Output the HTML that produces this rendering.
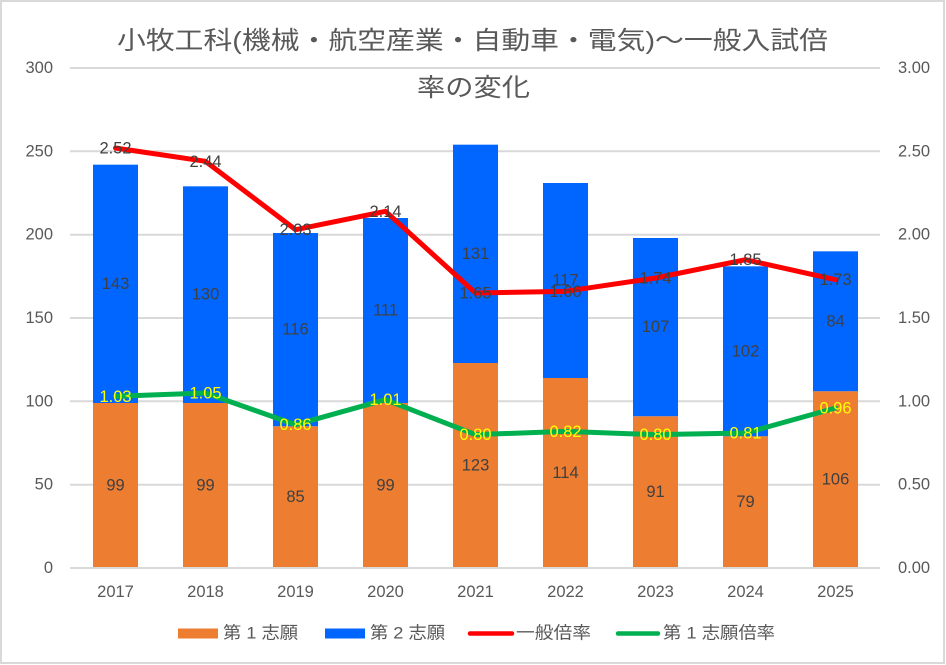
<!DOCTYPE html>
<html>
<head>
<meta charset="utf-8">
<style>
html,body{margin:0;padding:0;background:#fff;}
svg{display:block;}
text{font-family:"Liberation Sans","Noto Sans CJK JP",sans-serif;}
</style>
</head>
<body>
<svg width="946" height="665" viewBox="0 0 946 665" xmlns="http://www.w3.org/2000/svg">
<rect x="1" y="1" width="943" height="662" fill="#fff" stroke="#d9d9d9" stroke-width="2"/>

<!-- Title -->
<text x="117" y="41" font-size="25" fill="#595959" dominant-baseline="central" textLength="711" lengthAdjust="spacingAndGlyphs">小牧工科(機械・航空産業・自動車・電気)〜一般入試倍</text>
<text x="417" y="88" font-size="25" fill="#595959" dominant-baseline="central" textLength="113" lengthAdjust="spacingAndGlyphs">率の変化</text>

<!-- Gridlines -->
<g stroke="#d9d9d9" stroke-width="2">
<line x1="70" y1="68" x2="880" y2="68"/>
<line x1="70" y1="151.3" x2="880" y2="151.3"/>
<line x1="70" y1="234.7" x2="880" y2="234.7"/>
<line x1="70" y1="318" x2="880" y2="318"/>
<line x1="70" y1="401.3" x2="880" y2="401.3"/>
<line x1="70" y1="484.7" x2="880" y2="484.7"/>
<line x1="70" y1="568" x2="880" y2="568"/>
</g>

<!-- Left axis labels -->
<g font-size="16.5" fill="#595959" text-anchor="end" dominant-baseline="central">
<text x="53" y="68">300</text>
<text x="53" y="151.3">250</text>
<text x="53" y="234.7">200</text>
<text x="53" y="318">150</text>
<text x="53" y="401.3">100</text>
<text x="53" y="484.7">50</text>
<text x="53" y="568">0</text>
</g>
<!-- Right axis labels -->
<g font-size="16.5" fill="#595959" text-anchor="start" dominant-baseline="central">
<text x="898" y="68">3.00</text>
<text x="898" y="151.3">2.50</text>
<text x="898" y="234.7">2.00</text>
<text x="898" y="318">1.50</text>
<text x="898" y="401.3">1.00</text>
<text x="898" y="484.7">0.50</text>
<text x="898" y="568">0.00</text>
</g>

<!-- Bars: blue (total) -->
<g fill="#0066ff">
<rect x="93" y="164.67" width="45" height="238.33"/>
<rect x="183" y="186.33" width="45" height="216.67"/>
<rect x="273" y="233" width="45" height="193.33"/>
<rect x="363" y="218" width="45" height="185"/>
<rect x="453" y="144.67" width="45" height="218.33"/>
<rect x="543" y="183" width="45" height="195"/>
<rect x="633" y="238" width="45" height="178.33"/>
<rect x="723" y="266.33" width="45" height="170"/>
<rect x="813" y="251.33" width="45" height="140"/>
</g>
<!-- Bars: orange -->
<g fill="#ed7d31">
<rect x="93" y="403" width="45" height="165"/>
<rect x="183" y="403" width="45" height="165"/>
<rect x="273" y="426.33" width="45" height="141.67"/>
<rect x="363" y="403" width="45" height="165"/>
<rect x="453" y="363" width="45" height="205"/>
<rect x="543" y="378" width="45" height="190"/>
<rect x="633" y="416.33" width="45" height="151.67"/>
<rect x="723" y="436.33" width="45" height="131.67"/>
<rect x="813" y="391.33" width="45" height="176.67"/>
</g>
<line x1="70" y1="568" x2="880" y2="568" stroke="#d9d9d9" stroke-width="2"/>

<!-- Bar labels -->
<g font-size="16.5" fill="#404040" text-anchor="middle" dominant-baseline="central">
<text x="115.5" y="485.5">99</text>
<text x="205.5" y="485.5">99</text>
<text x="295.5" y="497.2">85</text>
<text x="385.5" y="485.5">99</text>
<text x="475.5" y="465.5">123</text>
<text x="565.5" y="473">114</text>
<text x="655.5" y="492.2">91</text>
<text x="745.5" y="502.2">79</text>
<text x="835.5" y="479.7">106</text>

<text x="115.5" y="283.8">143</text>
<text x="205.5" y="294.7">130</text>
<text x="295.5" y="329.7">116</text>
<text x="385.5" y="310.5">111</text>
<text x="475.5" y="253.8">131</text>
<text x="565.5" y="280.5">117</text>
<text x="655.5" y="327.2">107</text>
<text x="745.5" y="351.3">102</text>
<text x="835.5" y="321.3">84</text>
</g>

<!-- Lines -->
<polyline fill="none" stroke="#ff0000" stroke-width="5" stroke-linejoin="round" stroke-linecap="round"
 points="115.5,148 205.5,161.33 295.5,229.67 385.5,211.33 475.5,293 565.5,291.33 655.5,278 745.5,259.67 835.5,279.67"/>
<polyline fill="none" stroke="#00b050" stroke-width="5" stroke-linejoin="round" stroke-linecap="round"
 points="115.5,396.33 205.5,393 295.5,424.67 385.5,399.67 475.5,434.67 565.5,431.33 655.5,434.67 745.5,433 835.5,408"/>

<!-- Red line labels -->
<g font-size="16.5" fill="#404040" text-anchor="middle" dominant-baseline="central">
<text x="115.5" y="148.5">2.52</text>
<text x="205.5" y="161.8">2.44</text>
<text x="295.5" y="230.2">2.03</text>
<text x="385.5" y="211.8">2.14</text>
<text x="475.5" y="293.5">1.65</text>
<text x="565.5" y="291.8">1.66</text>
<text x="655.5" y="278.5">1.74</text>
<text x="745.5" y="260.2">1.85</text>
<text x="835.5" y="280.2">1.73</text>
</g>
<!-- Green line labels -->
<g font-size="16.5" fill="#ffff00" text-anchor="middle" dominant-baseline="central">
<text x="115.5" y="396.8">1.03</text>
<text x="205.5" y="393.5">1.05</text>
<text x="295.5" y="425.2">0.86</text>
<text x="385.5" y="400.2">1.01</text>
<text x="475.5" y="435.2">0.80</text>
<text x="565.5" y="431.8">0.82</text>
<text x="655.5" y="435.2">0.80</text>
<text x="745.5" y="433.5">0.81</text>
<text x="835.5" y="408.5">0.96</text>
</g>

<!-- X axis labels -->
<g font-size="16.5" fill="#595959" text-anchor="middle" dominant-baseline="central">
<text x="115.5" y="592">2017</text>
<text x="205.5" y="592">2018</text>
<text x="295.5" y="592">2019</text>
<text x="385.5" y="592">2020</text>
<text x="475.5" y="592">2021</text>
<text x="565.5" y="592">2022</text>
<text x="655.5" y="592">2023</text>
<text x="745.5" y="592">2024</text>
<text x="835.5" y="592">2025</text>
</g>

<!-- Legend -->
<rect x="178" y="628.5" width="40" height="10" fill="#ed7d31"/>
<text x="223" y="633" font-size="17" fill="#595959" dominant-baseline="central" textLength="75" lengthAdjust="spacingAndGlyphs">第 1 志願</text>
<rect x="325" y="628.5" width="40" height="10" fill="#0066ff"/>
<text x="370" y="633" font-size="17" fill="#595959" dominant-baseline="central" textLength="75" lengthAdjust="spacingAndGlyphs">第 2 志願</text>
<line x1="470" y1="633.5" x2="512" y2="633.5" stroke="#ff0000" stroke-width="4.5" stroke-linecap="round"/>
<text x="516" y="633" font-size="17" fill="#595959" dominant-baseline="central" textLength="75" lengthAdjust="spacingAndGlyphs">一般倍率</text>
<line x1="618" y1="633.5" x2="658" y2="633.5" stroke="#00b050" stroke-width="4.5" stroke-linecap="round"/>
<text x="663" y="633" font-size="17" fill="#595959" dominant-baseline="central" textLength="112" lengthAdjust="spacingAndGlyphs">第 1 志願倍率</text>
</svg>
</body>
</html>
